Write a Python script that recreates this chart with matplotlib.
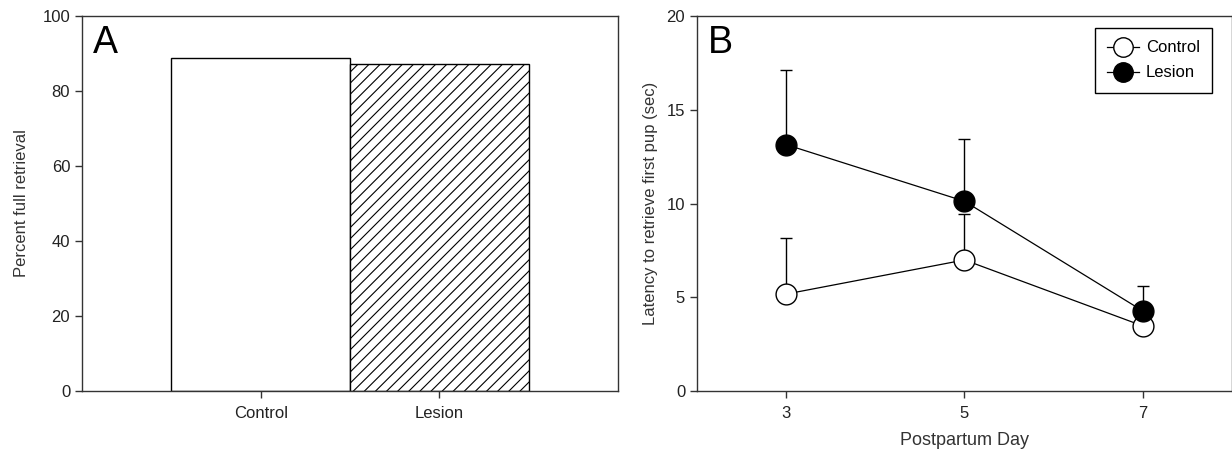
import matplotlib
matplotlib.use('Agg')
import matplotlib.pyplot as plt

plt.rcParams['font.family'] = ['Liberation Sans', 'DejaVu Sans']
plt.rcParams['hatch.linewidth'] = 0.8

# Panel A data
groups = ['Control', 'Lesion']
pct_full = [88.8, 87.2]

# Panel B data
days = [3, 5, 7]
ctrl_mean = [5.17, 6.99, 3.47]
ctrl_sem = [3.0, 2.45, 0.3]
les_mean = [13.14, 10.12, 4.27]
les_sem = [3.98, 3.32, 1.33]

fig = plt.figure(figsize=(12.32, 4.57), dpi=100)
axA = fig.add_axes([0.0666, 0.1444, 0.435, 0.8206])
axB = fig.add_axes([0.5657, 0.1444, 0.4343, 0.8206])

tick_font = {'family': ['Liberation Sans', 'DejaVu Sans'], 'size': 12}

# A
xpos = [1, 2]
axA.bar(xpos[0], pct_full[0], width=1.0, color='white', edgecolor='black', linewidth=1)
axA.bar(xpos[1], pct_full[1], width=1.0, color='white', edgecolor='black', linewidth=1, hatch='///')
axA.set_xlim(0, 3)
axA.set_ylim(0, 100)
axA.set_xticks(xpos)
axA.set_xticklabels(groups)
axA.set_yticks([0, 20, 40, 60, 80, 100])
axA.set_ylabel('Percent full retrieval', fontsize=12, color='#333333', labelpad=10)
axA.text(0.02, 0.975, 'A', transform=axA.transAxes, fontsize=27, va='top', ha='left')

# B
axB.plot(days, ctrl_mean, color='black', lw=0.9, zorder=2)
axB.plot(days, les_mean, color='black', lw=0.9, zorder=2)
axB.errorbar(days, ctrl_mean, yerr=[[0, 0, 0], ctrl_sem], fmt='none', ecolor='black',
             elinewidth=1, capsize=4, capthick=1, zorder=1)
axB.errorbar(days, les_mean, yerr=[[0, 0, 0], les_sem], fmt='none', ecolor='black',
             elinewidth=1, capsize=4, capthick=1, zorder=1)
axB.plot(days, ctrl_mean, 'o', color='black', mfc='white', mec='black', ms=15, mew=1, zorder=3)
axB.plot(days, les_mean, 'o', color='black', mfc='black', mec='black', ms=15, mew=1, zorder=3)
h1, = axB.plot([], [], '-o', color='black', mfc='white', ms=14, lw=0.9, label='Control')
h2, = axB.plot([], [], '-o', color='black', mfc='black', ms=14, lw=0.9, label='Lesion')
leg = axB.legend(handles=[h1, h2], loc='upper right', bbox_to_anchor=(0.963, 0.968),
                 fancybox=False, edgecolor='black', framealpha=1, fontsize=12,
                 handlelength=1.9, handletextpad=0.4, borderpad=0.75, labelspacing=0.6,
                 borderaxespad=0)
leg.get_frame().set_linewidth(1)
axB.set_xlim(2, 8)
axB.set_ylim(0, 20)
axB.set_xticks(days)
axB.set_yticks([0, 5, 10, 15, 20])
axB.set_xlabel('Postpartum Day', fontsize=13, color='#333333', labelpad=8)
axB.set_ylabel('Latency to retrieve first pup (sec)', fontsize=12, color='#333333', labelpad=6)
axB.text(0.02, 0.975, 'B', transform=axB.transAxes, fontsize=27, va='top', ha='left')

for ax in (axA, axB):
    for s in ax.spines.values():
        s.set_color('#333333')
        s.set_linewidth(1)
    ax.tick_params(direction='out', length=5, width=1, color='#333333', labelcolor='#222222')
    ax.tick_params(axis='x', pad=6)
    for lab in ax.get_xticklabels() + ax.get_yticklabels():
        lab.set_fontfamily(tick_font['family'])
        lab.set_fontsize(tick_font['size'])

fig.savefig('out.png', dpi=100)
